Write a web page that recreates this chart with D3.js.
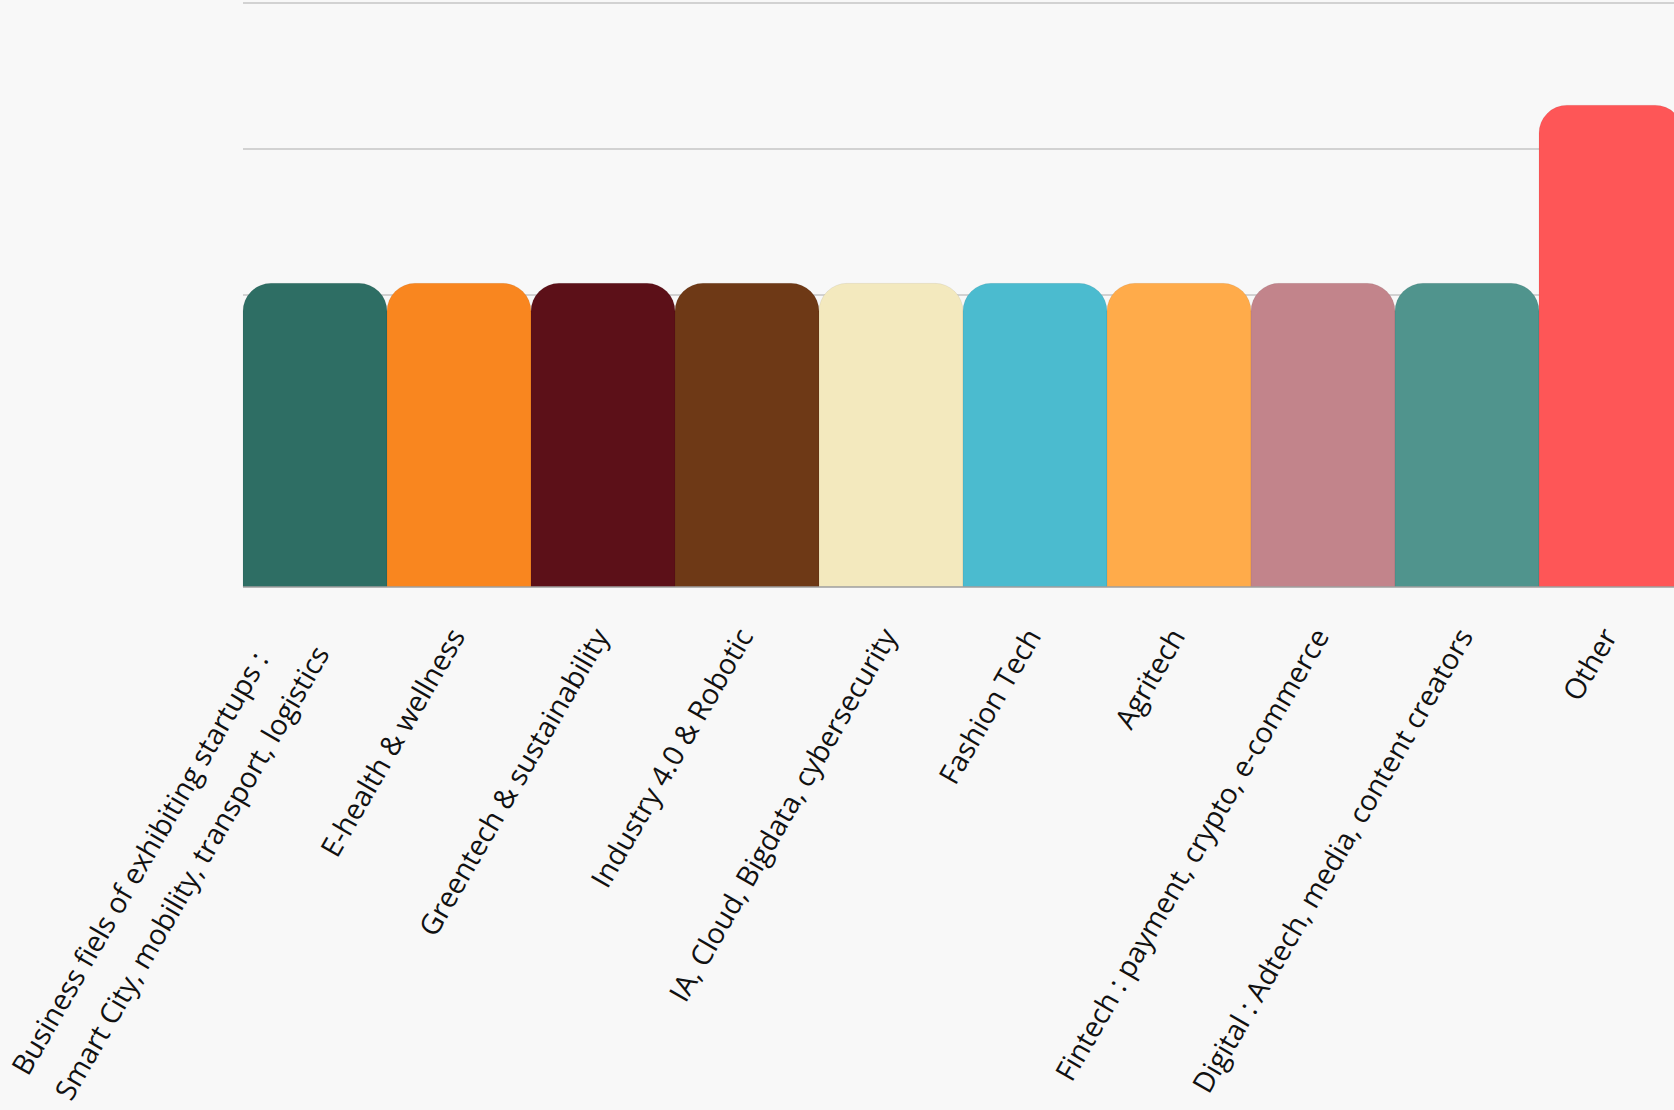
<!DOCTYPE html>
<html><head><meta charset="utf-8">
<script src="https://cdn.jsdelivr.net/npm/d3@7"></script>
<style>html,body{margin:0;padding:0;background:#f8f8f8;overflow:hidden}</style>
</head>
<body>
<svg id="chart" width="1674" height="1110"></svg>
<script>
// ---- data ----
const categories = [
  ["Business fiels of exhibiting startups :", "Smart City, mobility, transport, logistics"],
  ["E-health & wellness"],
  ["Greentech & sustainability"],
  ["Industry 4.0 & Robotic"],
  ["IA, Cloud, Bigdata, cybersecurity"],
  ["Fashion Tech"],
  ["Agritech"],
  ["Fintech : payment, crypto, e-commerce"],
  ["Digital : Adtech, media, content creators"],
  ["Other"]
];
const values = [2.08, 2.08, 2.08, 2.08, 2.08, 2.08, 2.08, 2.08, 2.08, 3.3];
const colors = ["#2e6e64", "#f9861f", "#5c1018", "#6e3916", "#f3e9be", "#4bbbcf", "#ffab4a", "#c2848b", "#50948d", "#fe5657"];
const yTicks = [0, 1, 2, 3, 4];

// ---- layout ----
const W = 1674, H = 1110;
const plotLeft = 243, band = 144;
const plotTop = 3, plotBase = 587;
const svg = d3.select("#chart");
svg.append("rect").attr("width", W).attr("height", H).attr("fill", "#f8f8f8");

const ids = categories.map((c, i) => i);
const x = d3.scaleBand().domain(ids).range([plotLeft, plotLeft + band * ids.length]).padding(0);
const y = d3.scaleLinear().domain([0, 4]).range([plotBase, plotTop]);

// grid
svg.append("g").selectAll("line").data(yTicks.filter(t => t > 0)).join("line")
  .attr("x1", plotLeft).attr("x2", W + 20)
  .attr("y1", d => y(d)).attr("y2", d => y(d))
  .attr("stroke", "#d2d2d2").attr("stroke-width", 2);

function topRounded(x0, y0, w, h, r) {
  r = Math.min(r, w / 2, h);
  return `M${x0},${y0 + h}V${y0 + r}A${r},${r} 0 0 1 ${x0 + r},${y0}H${x0 + w - r}A${r},${r} 0 0 1 ${x0 + w},${y0 + r}V${y0 + h}Z`;
}

svg.append("g").selectAll("path").data(values).join("path")
  .attr("d", (d, i) => topRounded(x(i), y(d), x.bandwidth(), plotBase - y(d), 28))
  .attr("fill", (d, i) => colors[i])
  .attr("stroke", "rgba(0,0,0,0.06)").attr("stroke-width", 1);

// baseline
svg.append("line").attr("x1", plotLeft).attr("x2", W + 20).attr("y1", plotBase).attr("y2", plotBase)
  .attr("stroke", "#a0a0a0").attr("stroke-width", 1.5);

// labels
const fontSize = 28.5, lineGap = 50;
const lg = svg.append("g").attr("font-family", "'Open Sans', sans-serif").attr("font-size", fontSize).attr("fill", "#111");
categories.forEach((lines, i) => {
  const cx = x(i) + x.bandwidth() / 2;
  const g = lg.append("g").attr("transform", `translate(${cx + 7},636) rotate(-60)`);
  if (lines.length === 1) {
    g.append("text").attr("text-anchor", "end").text(lines[0]);
  } else {
    const ts = lines.map((l, k) => g.append("text").attr("text-anchor", "start")
      .attr("y", 16 + (k - (lines.length - 1)) * lineGap).text(l));
    const maxLen = d3.max(ts, t => t.node().getComputedTextLength());
    ts.forEach(t => t.attr("x", -maxLen - 11));
  }
});
</script>
</body></html>
